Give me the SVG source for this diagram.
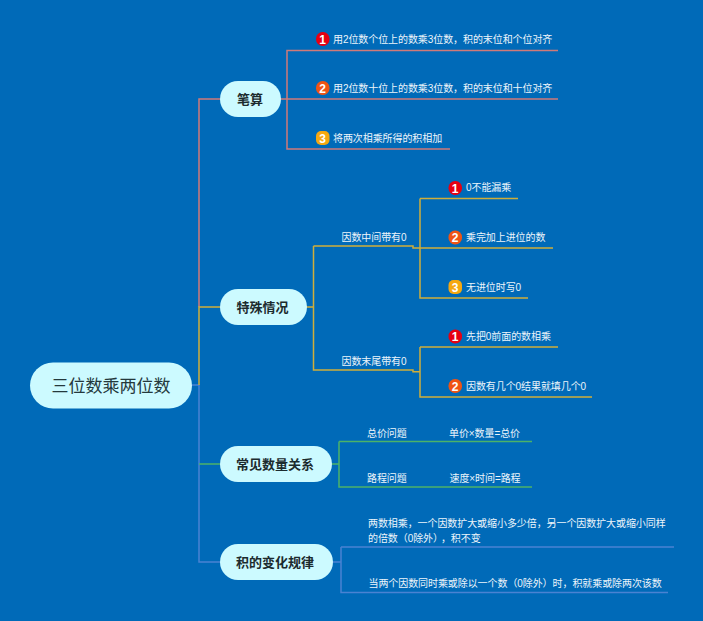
<svg xmlns="http://www.w3.org/2000/svg" width="703" height="621" viewBox="0 0 703 621">
<style>
text{font-family:"Liberation Sans","Noto Sans CJK SC",sans-serif}
.pill{fill:#ccfaff}
.t1{font-size:10px;letter-spacing:-.08px;fill:#edf5fb}
.main{font-size:13px;font-weight:bold;fill:#1c2b2e;text-anchor:middle}
.root{font-size:17px;fill:#24383c;text-anchor:middle}
.badge{font-size:12px;font-weight:bold;fill:#fff;text-anchor:middle}
.l{fill:none;stroke-width:1.500}
.red{stroke:#cf7a78}.gold{stroke:#cfae3a}.green{stroke:#4cb268}.blue{stroke:#4a82d2}
.b1{fill:#e60012}.b2{fill:#ef5414}.b3{fill:#f5a810}
</style>
<rect width="703" height="621" fill="#006ab8"/>
<g id="connectors">
<path class="l blue" d="M192 385H199V562H220M333 562H341M341 547V592.500H668M341 547H674"/>
<path class="l red" d="M199 307V99H220M281 99H558M287 99V50.500H558M287 99V149H450"/>
<path class="l gold" d="M199 385V307H220M306 307H313.500M313.500 246V370H413V371.700H420M313.500 246H413V248H553M420 198.500V298H528M420 198.500H518M420 347V397H592M420 347H558"/>
<path class="l green" d="M199 464H220M332 464H339M339 441.500V487H532M339 441.500H532"/>
</g>
<g id="root"><rect class="pill" x="30" y="362.500" width="162" height="46" rx="23"/><text class="root" x="111" y="391.500">三位数乘两位数</text></g>
<g id="n-bisuan"><rect class="pill" x="220" y="81" width="61" height="36" rx="18"/><text class="main" x="250" y="103.500">笔算</text></g>
<g id="n-teshu"><rect class="pill" x="220" y="289" width="87" height="36" rx="18"/><text class="main" x="262.500" y="311.500">特殊情况</text></g>
<g id="n-guanxi"><rect class="pill" x="220" y="446" width="112" height="36" rx="18"/><text class="main" x="275" y="468.500">常见数量关系</text></g>
<g id="n-guilv"><rect class="pill" x="220" y="544" width="113" height="36" rx="18"/><text class="main" x="275" y="566.500">积的变化规律</text></g>
<g id="s1"><rect class="b1" x="316" y="32" width="13.500" height="14" rx="6.500"/><text class="badge" x="322.700" y="43.500">1</text><text class="t1" x="333" y="43">用2位数个位上的数乘3位数，积的末位和个位对齐</text></g>
<g id="s2"><rect class="b2" x="316" y="81" width="13.500" height="14" rx="6.500"/><text class="badge" x="322.700" y="92.500">2</text><text class="t1" x="333" y="92">用2位数十位上的数乘3位数，积的末位和十位对齐</text></g>
<g id="s3"><rect class="b3" x="316" y="131" width="13.500" height="14" rx="5"/><text class="badge" x="322.700" y="142.500">3</text><text class="t1" x="333" y="142">将两次相乘所得的积相加</text></g>
<g id="m1"><text class="t1" x="341.500" y="241">因数中间带有0</text></g>
<g id="m2"><text class="t1" x="341.500" y="365">因数末尾带有0</text></g>
<g id="a1"><rect class="b1" x="448.500" y="181" width="13.500" height="14" rx="6.500"/><text class="badge" x="455.200" y="192.500">1</text><text class="t1" x="466" y="191">0不能漏乘</text></g>
<g id="a2"><rect class="b2" x="448.500" y="230.500" width="13.500" height="14" rx="6.500"/><text class="badge" x="455.200" y="242">2</text><text class="t1" x="466" y="241">乘完加上进位的数</text></g>
<g id="a3"><rect class="b3" x="448.500" y="280" width="13.500" height="14" rx="5"/><text class="badge" x="455.200" y="291.500">3</text><text class="t1" x="466" y="290.500">无进位时写0</text></g>
<g id="b1"><rect class="b1" x="448.500" y="329.500" width="13.500" height="14" rx="6.500"/><text class="badge" x="455.200" y="341">1</text><text class="t1" x="466" y="340">先把0前面的数相乘</text></g>
<g id="b2"><rect class="b2" x="448.500" y="379" width="13.500" height="14" rx="6.500"/><text class="badge" x="455.200" y="390.500">2</text><text class="t1" x="466" y="390">因数有几个0结果就填几个0</text></g>
<g id="c1"><text class="t1" x="367" y="437">总价问题</text><text class="t1" x="449" y="437">单价×数量=总价</text></g>
<g id="c2"><text class="t1" x="367" y="482">路程问题</text><text class="t1" x="449.500" y="482">速度×时间=路程</text></g>
<g id="d1"><text class="t1" x="368" y="527">两数相乘，一个因数扩大或缩小多少倍，另一个因数扩大或缩小同样</text><text class="t1" x="368" y="542">的倍数（0除外）<tspan dx="3">，</tspan>积不变</text></g>
<g id="d2"><text class="t1" x="368.500" y="587">当两个因数同时乘或除以一个数（0除外）时，积就乘或除两次该数</text></g>
</svg>
